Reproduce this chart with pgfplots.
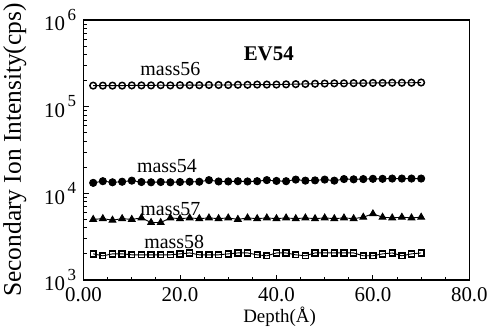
\documentclass[border=0pt]{standalone}
\usepackage{pgfplots}
\pgfplotsset{compat=1.18}
\usepackage{fontspec}
\setmainfont{Liberation Serif}
\newcommand{\tenp}[1]{10\hspace{2.5bp}\raisebox{0.5em}{\fontsize{17}{17}\selectfont #1}}
\begin{document}
\begin{tikzpicture}
\begin{axis}[
  scale only axis,
  width=386bp, height=260bp,
  ymode=log,
  xmin=0, xmax=80, ymin=1e3, ymax=1e6,
  xtick={0,20,40,60,80},
  xticklabels={0.00,20.0,40.0,60.0,80.0},
  ytick={1e3,1e4,1e5,1e6},
  yticklabels={\tenp{3},\tenp{4},\tenp{5},\tenp{6}},
  minor x tick num=3,
  tick pos=left,
  tick align=inside,
  major tick length=5bp,
  minor tick length=3bp,
  axis line style={line width=1.4pt},
  tick style={line width=0.9pt,black},
  tick label style={font=\fontsize{21}{23}\selectfont},
  xticklabel style={yshift=-4bp},
  yticklabel style={xshift=-4bp},
  xlabel={Depth(Å)},
  ylabel={Secondary Ion Intensity(cps)},
  xlabel style={font=\fontsize{19}{21}\selectfont, at={(axis description cs:0.508,-0.142)}, anchor=center, inner sep=0pt},
  ylabel style={font=\fontsize{25.5}{27}\selectfont, at={(axis description cs:-0.178,0.5)}, anchor=center},
  every axis plot/.append style={black, line width=0.9pt, mark size=3.3bp},
]
% mass56
\addplot[mark=o, mark options={line width=1.5pt}] coordinates {
(2,1.75e5)(4,1.75e5)(6,1.75e5)(8,1.75e5)(10,1.76e5)(12,1.76e5)(14,1.76e5)(16,1.77e5)(18,1.76e5)(20,1.77e5)
(22,1.77e5)(24,1.77e5)(26,1.78e5)(28,1.78e5)(30,1.78e5)(32,1.79e5)(34,1.79e5)(36,1.80e5)(38,1.80e5)(40,1.80e5)
(42,1.81e5)(44,1.82e5)(46,1.83e5)(48,1.84e5)(50,1.85e5)(52,1.86e5)(54,1.86e5)(56,1.87e5)(58,1.87e5)(60,1.88e5)
(62,1.88e5)(64,1.89e5)(66,1.89e5)(68,1.89e5)(70,1.90e5)};
% mass54
\addplot[mark=*, mark size=3.6bp] coordinates {
(2,1.32e4)(4,1.38e4)(6,1.34e4)(8,1.36e4)(10,1.40e4)(12,1.35e4)(14,1.34e4)(16,1.35e4)(18,1.34e4)(20,1.35e4)
(22,1.36e4)(24,1.36e4)(26,1.42e4)(28,1.37e4)(30,1.37e4)(32,1.38e4)(34,1.37e4)(36,1.38e4)(38,1.42e4)(40,1.39e4)
(42,1.38e4)(44,1.44e4)(46,1.40e4)(48,1.41e4)(50,1.44e4)(52,1.40e4)(54,1.46e4)(56,1.45e4)(58,1.46e4)(60,1.47e4)
(62,1.47e4)(64,1.48e4)(66,1.48e4)(68,1.48e4)(70,1.48e4)};
% mass57
\addplot[mark=triangle*, mark size=3.9bp] coordinates {
(2,5.0e3)(4,5.1e3)(6,4.9e3)(8,5.1e3)(10,5.0e3)(12,5.2e3)(14,4.6e3)(16,4.6e3)(18,5.2e3)(20,5.1e3)
(22,5.2e3)(24,5.1e3)(26,5.2e3)(28,5.1e3)(30,5.2e3)(32,5.0e3)(34,5.2e3)(36,5.1e3)(38,5.2e3)(40,5.1e3)
(42,5.2e3)(44,5.1e3)(46,5.2e3)(48,5.1e3)(50,5.2e3)(52,5.1e3)(54,5.2e3)(56,5.1e3)(58,5.3e3)(60,5.8e3)
(62,5.3e3)(64,5.2e3)(66,5.3e3)(68,5.2e3)(70,5.3e3)};
% mass58
\addplot[mark=square, mark size=2.9bp, mark options={line width=1.5pt}] coordinates {
(2,2.0e3)(4,1.9e3)(6,2.0e3)(8,2.0e3)(10,1.95e3)(12,1.95e3)(14,1.95e3)(16,1.95e3)(18,1.95e3)(20,2.0e3)
(22,2.05e3)(24,1.95e3)(26,1.95e3)(28,1.95e3)(30,2.0e3)(32,2.05e3)(34,2.05e3)(36,1.95e3)(38,1.9e3)(40,2.05e3)
(42,2.05e3)(44,1.95e3)(46,1.9e3)(48,2.05e3)(50,2.05e3)(52,2.05e3)(54,2.05e3)(56,2.05e3)(58,1.9e3)(60,1.9e3)
(62,2.0e3)(64,2.05e3)(66,1.9e3)(68,2.0e3)(70,2.05e3)};
\node[font=\fontsize{20}{22}\selectfont] at (axis cs:18,2.75e5) {mass56};
\node[font=\fontsize{20}{22}\selectfont] at (axis cs:17.3,2.05e4) {mass54};
\node[font=\fontsize{20}{22}\selectfont] at (axis cs:18,6.5e3) {mass57};
\node[font=\fontsize{20}{22}\selectfont] at (axis cs:18.8,2.75e3) {mass58};
\node[font=\fontsize{21}{23}\selectfont\bfseries] at (axis cs:38.4,4.1e5) {EV54};
\end{axis}
\end{tikzpicture}
\end{document}
